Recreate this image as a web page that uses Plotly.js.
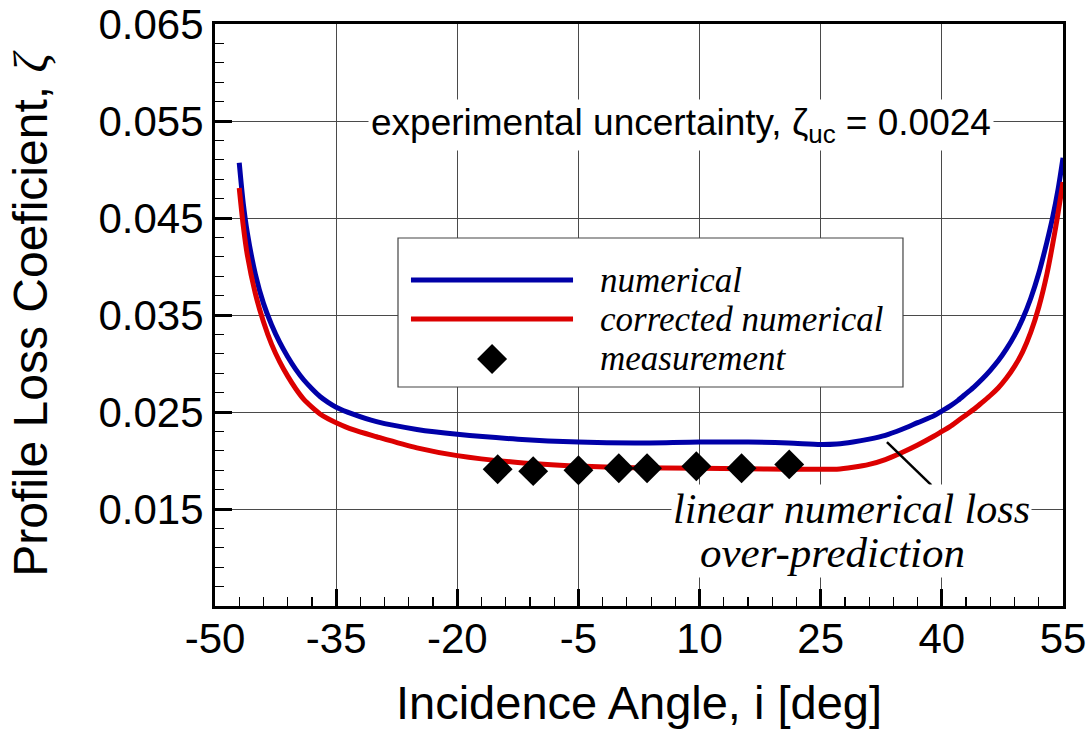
<!DOCTYPE html>
<html>
<head>
<meta charset="utf-8">
<script src="https://cdn.plot.ly/plotly-3.0.1.min.js"></script>
<style>
  html, body { margin: 0; padding: 0; background: #fff; }
  #chart { width: 1092px; height: 729px; }
</style>
</head>
<body>
<div id="chart"></div>
<script>
// Numerical profile loss vs incidence angle
const numIncidence = [-47, -46.5, -46, -45, -44, -43, -42, -41, -40, -39, -38, -37, -36, -35, -33, -30, -25, -20, -12.5, -5, 2, 10, 16, 21, 25, 27, 29, 31, 33, 35, 37, 39, 40, 41, 42, 43, 44, 45, 46, 47, 48, 49, 50, 51, 52, 53, 53.7, 54.4, 55];
const numZeta      = [0.0507, 0.0465, 0.0435, 0.0392, 0.0362, 0.0340, 0.0322, 0.0307, 0.0294, 0.0283, 0.0274, 0.0266, 0.0260, 0.0255, 0.0248, 0.0240, 0.0232, 0.0227, 0.0222, 0.0219, 0.0218, 0.0219, 0.0219, 0.0218, 0.02165, 0.0217, 0.0219, 0.0222, 0.0226, 0.0232, 0.0239, 0.0246, 0.0251, 0.0256, 0.0262, 0.0269, 0.0276, 0.0284, 0.0293, 0.0303, 0.0315, 0.0329, 0.0346, 0.0367, 0.0393, 0.0425, 0.0450, 0.0480, 0.0512];

// Corrected numerical profile loss
const corrIncidence = [-47, -46.5, -46, -45, -44, -43, -42, -41, -40, -39, -38, -37, -36, -35, -33, -30, -25, -20, -12.5, -5, 2, 10, 16, 21, 25, 27, 29, 31, 33, 35, 37, 39, 40, 41, 42, 43, 44, 45, 46, 47, 48, 49, 50, 51, 52, 53, 54, 54.5, 55];
const corrZeta      = [0.0481, 0.0442, 0.0412, 0.0372, 0.0343, 0.0320, 0.0302, 0.0287, 0.0274, 0.0263, 0.0255, 0.0248, 0.0243, 0.0239, 0.0232, 0.02245, 0.0213, 0.0205, 0.0198, 0.01943, 0.01925, 0.0192, 0.01915, 0.0191, 0.01909, 0.0191, 0.0193, 0.0196, 0.0201, 0.0208, 0.0216, 0.0225, 0.0230, 0.0235, 0.0241, 0.0247, 0.0253, 0.0260, 0.0267, 0.0275, 0.0285, 0.0297, 0.0312, 0.0332, 0.0358, 0.0392, 0.0436, 0.0461, 0.0487];

// Measured profile loss
const measIncidence = [-15, -10.6, -5, 0, 3.5, 9.6, 15.2, 21.1];
const measZeta      = [0.0191, 0.0189, 0.0190, 0.0192, 0.0192, 0.0194, 0.0192, 0.0196];

// Axis ticks
const xTicks = [-50, -35, -20, -5, 10, 25, 40, 55];
const yTicks = [0.015, 0.025, 0.035, 0.045, 0.055, 0.065];

// Legend entries
const legendLabels = ['numerical', 'corrected numerical', 'measurement'];

const SANS = 'Liberation Sans, Arial, sans-serif';
const SERIF = 'Liberation Serif, Times New Roman, serif';
const BLUE = '#0000a8';
const RED = '#dc0000';

const traces = [
  { x: numIncidence, y: numZeta, type: 'scatter', mode: 'lines',
    line: { color: BLUE, width: 5, shape: 'spline', smoothing: 0.8 }, name: legendLabels[0] },
  { x: corrIncidence, y: corrZeta, type: 'scatter', mode: 'lines',
    line: { color: RED, width: 5, shape: 'spline', smoothing: 0.8 }, name: legendLabels[1] },
  { x: measIncidence, y: measZeta, type: 'scatter', mode: 'markers',
    marker: { symbol: 'diamond', size: 23, color: '#000', line: { width: 0 } }, name: legendLabels[2] }
];

const axisCommon = {
  showline: true, linecolor: '#000', linewidth: 3, mirror: true,
  showgrid: true, gridcolor: '#4a4a4a', gridwidth: 1, zeroline: false,
  ticks: 'inside', ticklen: 17, tickwidth: 3, tickcolor: '#000',
  tickfont: { family: SANS, size: 42, color: '#000' },
  automargin: false
};

// Hand-built legend (long line samples)
const legendShapes = [
  { type: 'rect', xref: 'paper', yref: 'paper', x0: 0.2158, x1: 0.8113, y0: 0.3763, y1: 0.6323,
    fillcolor: '#fff', line: { color: '#444', width: 1.2 }, layer: 'above' },
  { type: 'line', xref: 'paper', yref: 'paper', x0: 0.2311, x1: 0.4222, y0: 0.5601, y1: 0.5601,
    line: { color: BLUE, width: 5 }, layer: 'above' },
  { type: 'line', xref: 'paper', yref: 'paper', x0: 0.2311, x1: 0.4222, y0: 0.4931, y1: 0.4931,
    line: { color: RED, width: 5 }, layer: 'above' },
  { type: 'path', xref: 'paper', yref: 'paper', xsizemode: 'pixel', ysizemode: 'pixel',
    xanchor: 0.3267, yanchor: 0.4244, path: 'M-15,0 L0,15 L15,0 L0,-15 Z',
    fillcolor: '#000', line: { width: 0 }, layer: 'above' },
  // leader line to the loss note
  { type: 'line', xref: 'x', yref: 'y', x0: 33.2, y0: 0.0219, x1: 38.7, y1: 0.01747,
    line: { color: '#000', width: 2.5 }, layer: 'above' }
];

const legendText = [0.5601, 0.4931, 0.4244].map((yy, i) => ({
  xref: 'paper', yref: 'paper', x: 0.4517, y: yy, xanchor: 'left', yanchor: 'middle',
  text: legendLabels[i], showarrow: false,
  font: { family: SERIF, size: 35, color: '#000', style: 'italic' }
}));

const notes = [
  { xref: 'paper', yref: 'paper', x: 0.5495, y: 0.8265, xanchor: 'center', yanchor: 'middle',
    text: 'experimental uncertainty, ζ<sub>uc</sub> = 0.0024', showarrow: false,
    bgcolor: '#fff', borderpad: 2,
    font: { family: SANS, size: 37, color: '#000' } },
  { xref: 'paper', yref: 'paper', x: 0.7506, y: 0.1667, xanchor: 'center', yanchor: 'middle',
    text: 'linear numerical loss', showarrow: false, bgcolor: '#fff', borderpad: 1,
    font: { family: SERIF, size: 42, color: '#000', style: 'italic' } },
  { xref: 'paper', yref: 'paper', x: 0.7282, y: 0.0920, xanchor: 'center', yanchor: 'middle',
    text: 'over-prediction', showarrow: false, bgcolor: '#fff', borderpad: 1,
    font: { family: SERIF, size: 43, color: '#000', style: 'italic' } }
];

const layout = {
  width: 1092, height: 729,
  margin: { l: 215, r: 29, t: 24, b: 123 },
  paper_bgcolor: '#fff', plot_bgcolor: '#fff',
  showlegend: false,
  xaxis: Object.assign({}, axisCommon, {
    range: [-50, 55], tickmode: 'array', tickvals: xTicks, ticktext: xTicks.map(String),
    ticklabelstandoff: -6,
    minor: { tickmode: 'linear', tick0: -50, dtick: 3, ticks: 'inside', ticklen: 9, tickwidth: 1.2, tickcolor: '#000', showgrid: false },
    title: { text: 'Incidence Angle, i [deg]', font: { family: SANS, size: 47, color: '#000' }, standoff: 26 }
  }),
  yaxis: Object.assign({}, axisCommon, {
    range: [0.005, 0.065], tickmode: 'array', tickvals: yTicks, ticktext: yTicks.map(v => v.toFixed(3)),
    minor: { tickmode: 'linear', tick0: 0.005, dtick: 0.002, ticks: 'inside', ticklen: 9, tickwidth: 1.2, tickcolor: '#000', showgrid: false },
    title: { text: 'Profile Loss Coeficient, <span style="font-family:\'Liberation Serif\';font-style:italic">ζ</span>',
      font: { family: SANS, size: 48, color: '#000' }, standoff: 36 }
  }),
  shapes: legendShapes,
  annotations: legendText.concat(notes)
};

Plotly.newPlot('chart', traces, layout, { staticPlot: true, displayModeBar: false });
</script>
</body>
</html>
